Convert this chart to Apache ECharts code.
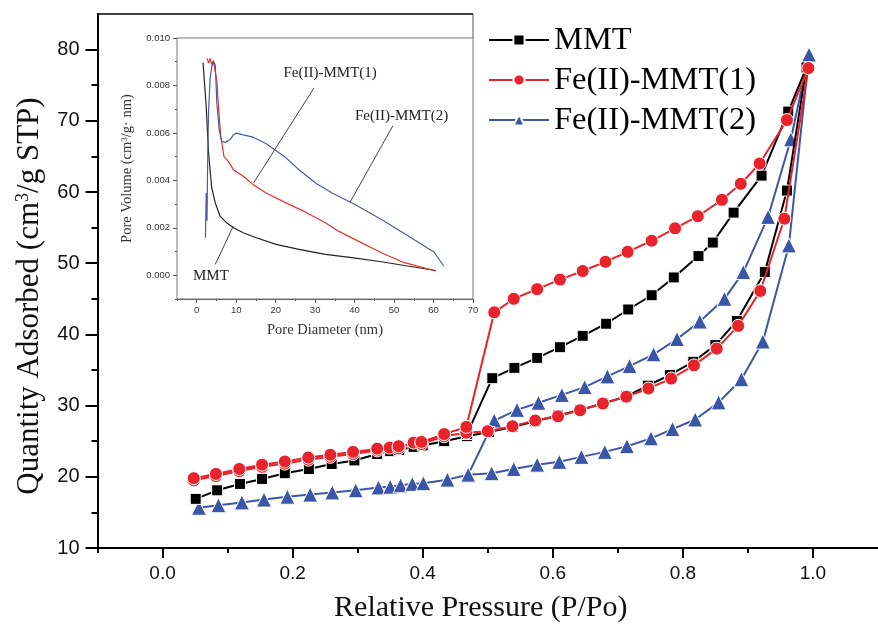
<!DOCTYPE html>
<html>
<head>
<meta charset="utf-8">
<script src="https://cdn.jsdelivr.net/npm/echarts@6/dist/echarts.min.js"></script>
<style>
  html, body { margin: 0; padding: 0; background: #fff; }
  #chart { width: 878px; height: 628px; }
</style>
</head>
<body>
<div id="chart"></div>
<script>
// N2 adsorption–desorption isotherms (relative pressure vs. quantity adsorbed)
const seriesNames = ['MMT', 'Fe(II)-MMT(1)', 'Fe(II)-MMT(2)'];

// MMT
const mmtAdsP = [0.051, 0.084, 0.119, 0.153, 0.188, 0.225, 0.260, 0.295, 0.330, 0.350, 0.364, 0.386, 0.400, 0.433, 0.468, 0.502, 0.538, 0.573, 0.608, 0.642, 0.677, 0.713, 0.746, 0.780, 0.816, 0.850, 0.883, 0.926, 0.960, 0.990];
const mmtAdsQ = [16.9, 18.1, 19.0, 19.7, 20.5, 21.1, 21.8, 22.3, 23.2, 23.6, 23.75, 24.2, 24.4, 25.0, 25.7, 26.3, 27.0, 27.8, 28.6, 29.4, 30.3, 31.3, 32.8, 34.3, 36.15, 38.5, 41.9, 48.75, 60.2, 77.5];
const mmtDesP = [0.962, 0.921, 0.878, 0.846, 0.824, 0.786, 0.752, 0.716, 0.682, 0.646, 0.611, 0.576, 0.541, 0.507, 0.468];
const mmtDesQ = [71.3, 62.3, 57.1, 52.9, 51.0, 48.0, 45.5, 43.5, 41.5, 39.8, 38.2, 36.7, 35.3, 33.85, 26.0];

// Fe(II)-MMT(1)
const fe1AdsP = [0.048, 0.082, 0.118, 0.153, 0.188, 0.224, 0.258, 0.293, 0.330, 0.349, 0.363, 0.386, 0.398, 0.433, 0.467, 0.500, 0.538, 0.573, 0.608, 0.642, 0.677, 0.713, 0.747, 0.782, 0.817, 0.852, 0.885, 0.919, 0.956, 0.993];
const fe1AdsQ = [19.5, 20.1, 20.8, 21.4, 21.85, 22.4, 22.8, 23.2, 23.7, 24.1, 24.0, 24.8, 24.6, 25.7, 26.2, 26.4, 27.1, 27.9, 28.5, 29.35, 30.3, 31.25, 32.4, 33.8, 35.65, 38.0, 41.2, 46.1, 56.25, 77.4];
const fe1DesP = [0.960, 0.918, 0.889, 0.860, 0.823, 0.788, 0.752, 0.715, 0.681, 0.646, 0.611, 0.576, 0.540, 0.510, 0.467, 0.433, 0.398, 0.363, 0.330, 0.293, 0.258, 0.224, 0.188, 0.153, 0.118, 0.082, 0.048];
const fe1DesQ = [70.1, 64.0, 61.15, 58.9, 56.6, 54.9, 53.15, 51.6, 50.2, 48.9, 47.7, 46.35, 45.0, 43.1, 27.0, 26.0, 24.9, 24.3, 23.95, 23.5, 23.1, 22.7, 22.15, 21.7, 21.1, 20.4, 19.8];

// Fe(II)-MMT(2)
const fe2AdsP = [0.056, 0.086, 0.122, 0.156, 0.192, 0.227, 0.261, 0.297, 0.332, 0.350, 0.366, 0.384, 0.401, 0.438, 0.470, 0.506, 0.540, 0.576, 0.610, 0.644, 0.680, 0.714, 0.751, 0.784, 0.819, 0.855, 0.890, 0.923, 0.963, 0.994];
const fe2AdsQ = [15.65, 16.0, 16.4, 16.8, 17.2, 17.5, 17.8, 18.1, 18.5, 18.6, 18.8, 19.0, 19.1, 19.6, 20.3, 20.5, 21.1, 21.7, 22.1, 22.8, 23.5, 24.3, 25.4, 26.7, 28.05, 30.45, 33.7, 39.0, 52.5, 79.3];
const fe2DesP = [0.966, 0.931, 0.893, 0.864, 0.826, 0.791, 0.755, 0.718, 0.684, 0.649, 0.614, 0.578, 0.545, 0.510, 0.470];
const fe2DesQ = [67.4, 56.5, 48.75, 45.0, 41.8, 39.35, 37.2, 35.55, 34.1, 32.6, 31.5, 30.4, 29.4, 27.9, 20.3];

// Inset: pore size distribution (pore diameter nm vs. pore volume)
const mmtPsdD = [1.6, 2.4, 3.0, 3.8, 4.7, 5.9, 7.6, 9.3, 11.8, 15.1, 20.1, 25.9, 32.6, 39.3, 46.8, 53.4, 60.6];
const mmtPsdV = [0.00896, 0.00711, 0.00515, 0.00368, 0.00305, 0.00249, 0.00221, 0.00200, 0.00179, 0.00158, 0.00130, 0.00109, 0.00088, 0.00074, 0.00057, 0.00039, 0.00020];
const fe1PsdD = [2.6, 3.0, 3.4, 3.8, 4.2, 4.7, 5.1, 5.5, 6.1, 6.9, 8.0, 9.3, 10.5, 11.8, 14.3, 17.6, 22.6, 27.6, 32.6, 35.9, 40.9, 46.8, 52.6, 60.6];
const fe1PsdV = [0.00914, 0.00895, 0.00914, 0.00888, 0.00905, 0.00900, 0.00820, 0.00710, 0.00585, 0.00500, 0.00480, 0.00445, 0.00431, 0.00417, 0.00382, 0.00347, 0.00305, 0.00266, 0.00221, 0.00186, 0.00144, 0.00095, 0.00053, 0.00018];
const fe2PsdD = [2.2, 2.4, 2.6, 2.8, 3.0, 3.4, 3.8, 4.3, 4.7, 5.1, 5.7, 6.3, 7.2, 8.4, 9.3, 10.1, 11.8, 14.3, 17.6, 22.2, 25.9, 30.1, 34.3, 40.1, 46.8, 53.4, 60.1, 62.6];
const fe2PsdV = [0.00158, 0.00347, 0.00230, 0.00520, 0.00690, 0.00830, 0.00880, 0.00900, 0.00886, 0.00725, 0.00613, 0.00564, 0.00560, 0.00571, 0.00592, 0.00599, 0.00592, 0.00582, 0.00554, 0.00501, 0.00445, 0.00389, 0.00347, 0.00298, 0.00235, 0.00168, 0.00098, 0.00039];

// Tick values
const xMainTicks = [0.0, 0.2, 0.4, 0.6, 0.8, 1.0];
const xMainMinor = [-0.1, 0.1, 0.3, 0.5, 0.7, 0.9];
const yMainTicks = [10, 20, 30, 40, 50, 60, 70, 80];
const yMainMinor = [15, 25, 35, 45, 55, 65, 75];
const xInsetTicks = [0, 10, 20, 30, 40, 50, 60, 70];
const xInsetMinor = [-5, 5, 15, 25, 35, 45, 55, 65];
const yInsetTicks = [0.000, 0.002, 0.004, 0.006, 0.008, 0.010];
const yInsetMinor = [-0.001, 0.001, 0.003, 0.005, 0.007, 0.009];

// Inset annotations (label text, label anchor, arrow start, arrow end) in data units
const insetNotes = [
  { text: 'Fe(II)-MMT(1)', at: [33.8, 0.00854], from: [29.7, 0.00789], to: [14.4, 0.00389] },
  { text: 'Fe(II)-MMT(2)', at: [51.9, 0.00669], from: [49.7, 0.00630], to: [38.85, 0.00308] },
  { text: 'MMT', at: [3.6, -0.00003], from: [4.7, 0.00046], to: [9.25, 0.00207] }
];

function zip(xs, ys) { return xs.map((x, i) => [x, ys[i]]); }
function loop(ap, aq, dp, dq) { return zip(ap, aq).concat(zip(dp, dq)); }

const SERIF = 'Liberation Serif';
const SANS = 'Liberation Sans';
const BLACK = '#000000', RED = '#e8232b', BLUE = '#3b56a8';

const G = { left: 97.5, top: 14, right: -8, bottom: 74 };
const INSET = { left: 177, top: 38, width: 296, height: 261 };

const chart = echarts.init(document.getElementById('chart'), null, { renderer: 'canvas' });

function mainSeries(name, data, symbol, size, color, z) {
  return {
    name, type: 'line', xAxisIndex: 0, yAxisIndex: 0, data,
    symbol, symbolSize: size, showSymbol: true, z,
    lineStyle: { color, width: 2 },
    itemStyle: { color, borderColor: '#ffffff', borderWidth: 1 },
    emphasis: { disabled: true }, animation: false
  };
}
function insetSeries(name, data, color, extra) {
  return Object.assign({
    name: name + ' psd', type: 'line', xAxisIndex: 2, yAxisIndex: 2, data,
    symbol: 'none', lineStyle: { color, width: 1.2 }, itemStyle: { color },
    emphasis: { disabled: true }, animation: false, z: 5
  }, extra || {});
}
// Axis that only contributes a set of short ticks
function tickOnlyAxis(gridIndex, min, max, position, values, length, color, width) {
  return {
    type: 'value', gridIndex, min, max, position,
    axisLine: { show: false, onZero: false }, axisLabel: { show: false }, splitLine: { show: false },
    axisTick: { show: true, length, customValues: values, lineStyle: { color, width } }
  };
}

const insetTick = { show: true, inside: false, length: 4, lineStyle: { color: '#555', width: 1 } };
const insetLabel = { show: true, fontFamily: SANS, fontSize: 9.5, color: '#333' };

const option = {
  backgroundColor: '#ffffff',
  animation: false,
  grid: [
    { left: G.left, top: G.top, right: G.right, bottom: G.bottom, containLabel: false },
    { left: INSET.left, top: INSET.top, width: INSET.width, height: INSET.height, show: true,
      borderColor: '#777', borderWidth: 1, backgroundColor: '#fff', z: 3 }
  ],
  legend: {
    data: seriesNames, left: 488, top: 23, orient: 'vertical',
    itemWidth: 60, itemHeight: 14, itemGap: 6,
    textStyle: { fontFamily: SERIF, fontSize: 32.5, color: '#000', lineHeight: 34 },
    backgroundColor: '#fff', padding: [0, 0, 0, 0],
    selectedMode: false
  },
  xAxis: [
    { type: 'value', gridIndex: 0, min: -0.1, max: 1.1, position: 'bottom',
      axisLine: { show: true, onZero: false, lineStyle: { color: '#000', width: 2 } },
      axisTick: { show: true, length: 10, lineStyle: { width: 2, color: '#000' }, customValues: xMainTicks },
      axisLabel: { show: true, customValues: xMainTicks, margin: 16, fontFamily: SANS, fontSize: 19, color: '#111',
        formatter: v => v.toFixed(1) },
      splitLine: { show: false },
      name: 'Relative Pressure (P/Po)', nameLocation: 'middle', nameGap: 45,
      nameTextStyle: { fontFamily: SERIF, fontSize: 30, color: '#111', padding: [0, 14, 0, 0] }
    },
    tickOnlyAxis(0, -0.1, 1.1, 'bottom', xMainMinor, 5, '#000', 2),
    { type: 'value', gridIndex: 1, min: -5, max: 70, position: 'bottom',
      axisLine: { show: true, onZero: false, lineStyle: { color: '#555', width: 1 } },
      axisTick: Object.assign({ customValues: xInsetTicks }, insetTick),
      axisLabel: Object.assign({ customValues: xInsetTicks, margin: 6 }, insetLabel),
      splitLine: { show: false },
      name: 'Pore Diameter (nm)', nameLocation: 'middle', nameGap: 24,
      nameTextStyle: { fontFamily: SERIF, fontSize: 14.5, color: '#333' }
    },
    tickOnlyAxis(1, -5, 70, 'bottom', xInsetMinor, 2, '#555', 1)
  ],
  yAxis: [
    { type: 'value', gridIndex: 0, min: 10, max: 85, position: 'left',
      axisLine: { show: true, onZero: false, lineStyle: { color: '#000', width: 2 } },
      axisTick: { show: true, length: 12, lineStyle: { width: 2, color: '#000' }, customValues: yMainTicks },
      axisLabel: { show: true, customValues: yMainTicks, margin: 18, fontFamily: SANS, fontSize: 20, color: '#111' },
      splitLine: { show: false },
      name: '{a|Quantity Adsorbed (cm}{s|3}{a|/g STP)}', nameLocation: 'middle', nameGap: 52,
      nameTextStyle: {
        padding: [0, 0, 0, -30],
        rich: {
          a: { fontFamily: SERIF, fontSize: 31, color: '#111' },
          s: { fontFamily: SERIF, fontSize: 18, color: '#111', verticalAlign: 'top', padding: [0, 0, 10, 0] }
        }
      }
    },
    tickOnlyAxis(0, 10, 85, 'left', yMainMinor, 6, '#000', 2),
    { type: 'value', gridIndex: 1, min: -0.001, max: 0.010, position: 'left',
      axisLine: { show: true, onZero: false, lineStyle: { color: '#555', width: 1 } },
      axisTick: Object.assign({ customValues: yInsetTicks }, insetTick),
      axisLabel: Object.assign({ customValues: yInsetTicks, margin: 7, formatter: v => v.toFixed(3) }, insetLabel),
      splitLine: { show: false },
      name: '{a|Pore Volume (cm}{s|3}{a|/g· nm)}', nameLocation: 'middle', nameGap: 42,
      nameTextStyle: {
        rich: {
          a: { fontFamily: SERIF, fontSize: 14.5, color: '#333' },
          s: { fontFamily: SERIF, fontSize: 9, color: '#333', verticalAlign: 'top', padding: [0, 0, 5, 0] }
        }
      }
    },
    tickOnlyAxis(1, -0.001, 0.010, 'left', yInsetMinor, 2, '#555', 1)
  ],
  series: [
    mainSeries(seriesNames[2], loop(fe2AdsP, fe2AdsQ, fe2DesP, fe2DesQ), 'triangle', 15, BLUE, 2),
    mainSeries(seriesNames[0], loop(mmtAdsP, mmtAdsQ, mmtDesP, mmtDesQ), 'rect', 11, BLACK, 3),
    mainSeries(seriesNames[1], loop(fe1AdsP, fe1AdsQ, fe1DesP, fe1DesQ), 'circle', 13, RED, 4),
    insetSeries('MMT', zip(mmtPsdD, mmtPsdV), '#222', {
      markLine: {
        silent: true, symbol: ['none', 'arrow'], symbolSize: [0, 6],
        lineStyle: { color: '#444', width: 1, type: 'solid' },
        label: { show: false },
        data: insetNotes.map(n => [{ coord: n.from }, { coord: n.to }])
      },
      markPoint: {
        silent: true, symbol: 'circle', symbolSize: 0,
        label: { show: true, position: 'inside', fontFamily: SERIF, fontSize: 15, color: '#222',
          formatter: p => p.name },
        data: insetNotes.map(n => ({ name: n.text, coord: n.at }))
      }
    }),
    insetSeries('Fe1', zip(fe1PsdD, fe1PsdV), '#e8302a'),
    insetSeries('Fe2', zip(fe2PsdD, fe2PsdV), '#4a5aa8')
  ],
  graphic: [
    { type: 'line', z: 100, shape: { x1: G.left, y1: G.top, x2: INSET.left + INSET.width, y2: G.top },
      style: { stroke: '#000', lineWidth: 1.5 } },
    { type: 'line', z: 100, shape: { x1: INSET.left + INSET.width, y1: G.top, x2: INSET.left + INSET.width, y2: INSET.top },
      style: { stroke: '#555', lineWidth: 1 } }
  ]
};

chart.setOption(option);
</script>
</body>
</html>
